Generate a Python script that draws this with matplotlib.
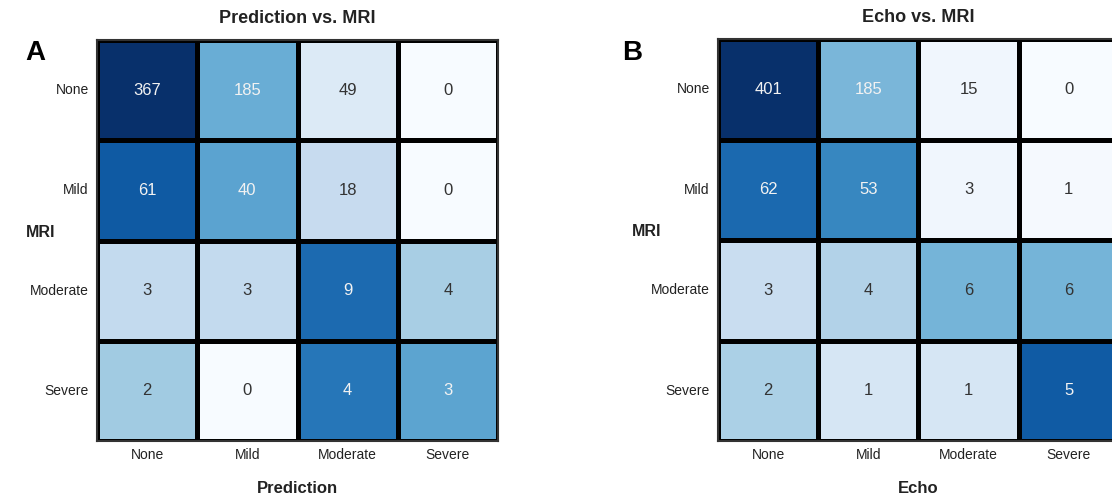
import numpy as np
import matplotlib
matplotlib.use("Agg")
import matplotlib.pyplot as plt
import seaborn as sns

plt.rcParams['font.family'] = ['Liberation Sans', 'DejaVu Sans']

labels = ["None", "Mild", "Moderate", "Severe"]
pred_counts = [
    [367, 185, 49, 0],
    [61, 40, 18, 0],
    [3, 3, 9, 4],
    [2, 0, 4, 3],
]
echo_counts = [
    [401, 185, 15, 0],
    [62, 53, 3, 1],
    [3, 4, 6, 6],
    [2, 1, 1, 5],
]
# cells annotated in light text (1) vs dark text (0), as in the original
pred_light = [
    [1, 1, 0, 0],
    [1, 1, 0, 0],
    [0, 0, 1, 0],
    [0, 0, 1, 1],
]
echo_light = [
    [1, 1, 0, 0],
    [1, 1, 0, 0],
    [0, 0, 0, 0],
    [0, 0, 0, 1],
]
titles = ["Prediction vs. MRI", "Echo vs. MRI"]
xlabels = ["Prediction", "Echo"]
ylabel = "MRI"
panel_letters = ["A", "B"]

W, H = 1112, 499
fig = plt.figure(figsize=(W / 100, H / 100), dpi=100)

boxes = [(97, 40, 401, 401), (718, 39, 401, 402)]
ylab_x = [-0.14, -0.177]
letter_pos = [(35, 53), (632, 53)]

for i, (counts, light) in enumerate([(pred_counts, pred_light), (echo_counts, echo_light)]):
    c = np.array(counts, dtype=float)
    norm = c / c.sum(axis=1, keepdims=True)
    l, t, w, h = boxes[i]
    ax = fig.add_axes([l / W, 1 - (t + h) / H, w / W, h / H])
    sns.heatmap(norm, annot=np.array(counts), fmt="d", cmap="Blues", cbar=False,
                linewidths=2.2, linecolor="black", ax=ax, square=False,
                annot_kws={"fontsize": 12},
                xticklabels=labels, yticklabels=labels)
    lf = np.array(light).ravel()
    for txt, f in zip(ax.texts, lf):
        txt.set_color("#f2f2f2" if f else "#333333")
    for s in ax.spines.values():
        s.set_visible(True)
        s.set_color("#333333")
        s.set_linewidth(1.5)
    ax.tick_params(axis="both", length=0, labelsize=10, colors="#222222")
    ax.tick_params(axis="x", pad=5)
    ax.tick_params(axis="y", pad=6)
    plt.setp(ax.get_yticklabels(), rotation=0)
    plt.setp(ax.get_xticklabels(), rotation=0)
    ax.set_title(titles[i], fontsize=13, fontweight="bold", pad=12, color="#222222")
    ax.set_xlabel(xlabels[i], fontsize=12, fontweight="bold", color="#222222")
    ax.xaxis.set_label_coords(0.5, -0.1)
    ax.set_ylabel(ylabel, fontsize=11.5, fontweight="bold", rotation=0, color="#222222",
                  va="center", ha="center")
    ax.yaxis.set_label_coords(ylab_x[i], 0.52)
    lx, ly = letter_pos[i]
    fig.text(lx / W, 1 - ly / H, panel_letters[i], fontsize=20, fontweight="bold",
             ha="center", va="center")

fig.savefig("out.png", dpi=100)
